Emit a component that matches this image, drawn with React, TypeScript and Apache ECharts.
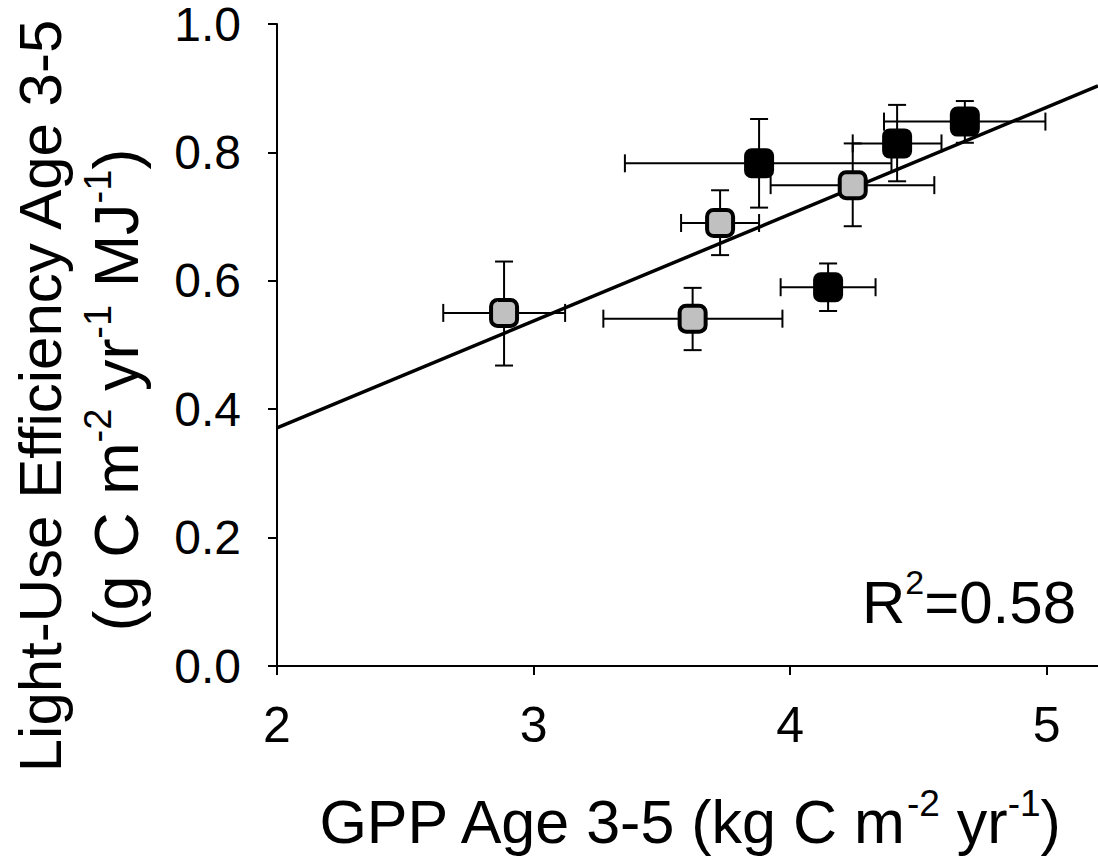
import React, { useEffect, useRef } from "react";
import * as echarts from "echarts";

// Gray squares
const grayX = [2.885, 3.62, 3.727, 4.244];
const grayY = [0.55, 0.541, 0.69, 0.749];
const grayXLo = [2.648, 3.272, 3.575, 3.924];
const grayXHi = [3.123, 3.97, 3.879, 4.562];
const grayYLo = [0.468, 0.492, 0.64, 0.685];
const grayYHi = [0.63, 0.589, 0.741, 0.814];

// Black squares
const blackX = [3.879, 4.148, 4.417, 4.681];
const blackY = [0.783, 0.59, 0.814, 0.848];
const blackXLo = [3.356, 3.963, 4.244, 4.366];
const blackXHi = [4.395, 4.333, 4.59, 4.995];
const blackYLo = [0.714, 0.553, 0.755, 0.815];
const blackYHi = [0.852, 0.627, 0.874, 0.88];

// Regression fit
const fitIntercept = 0.3708; // value at x = 2
const fitSlope = 0.1665;
const fitXRange = [2, 5.2];

const xTicks = [2, 3, 4, 5];
const yTicks = [0, 0.2, 0.4, 0.6, 0.8, 1.0];
const r2Text = "0.58";

const FONT = "Liberation Sans, Arial, sans-serif";

function errData(x: number[], y: number[], xl: number[], xh: number[], yl: number[], yh: number[]) {
  return x.map((v, i) => [v, y[i], xl[i], xh[i], yl[i], yh[i]]);
}

export default function App() {
  const ref = useRef<HTMLDivElement>(null);
  useEffect(() => {
    if (!ref.current) return;
    const chart = echarts.init(ref.current, null, { renderer: "svg" });
    const cap = 9;
    const renderErr = (params: any, api: any) => {
      const x = api.value(0), y = api.value(1);
      const pL = api.coord([api.value(2), y]);
      const pR = api.coord([api.value(3), y]);
      const pB = api.coord([x, api.value(4)]);
      const pT = api.coord([x, api.value(5)]);
      const st = { stroke: "#000", lineWidth: 2 };
      const ln = (x1: number, y1: number, x2: number, y2: number) => ({
        type: "line",
        shape: { x1, y1, x2, y2 },
        style: st,
      });
      return {
        type: "group",
        children: [
          ln(pL[0], pL[1], pR[0], pR[1]),
          ln(pL[0], pL[1] - cap, pL[0], pL[1] + cap),
          ln(pR[0], pR[1] - cap, pR[0], pR[1] + cap),
          ln(pB[0], pB[1], pT[0], pT[1]),
          ln(pB[0] - cap, pB[1], pB[0] + cap, pB[1]),
          ln(pT[0] - cap, pT[1], pT[0] + cap, pT[1]),
        ],
      };
    };
    const fitData = fitXRange.map((x) => [x, fitIntercept + fitSlope * (x - 2)]);
    const sup = (fs: number) => ({ fontSize: fs, fontFamily: FONT, color: "#000", verticalAlign: "top", lineHeight: fs });
    const main = (fs: number, lh: number) => ({ fontSize: fs, fontFamily: FONT, color: "#000", lineHeight: lh });

    chart.setOption({
      animation: false,
      backgroundColor: "#fff",
      grid: { left: 277, top: 24, width: 825, bottom: 195 },
      xAxis: {
        type: "value",
        min: fitXRange[0],
        max: fitXRange[1],
        interval: 1,
        splitLine: { show: false },
        axisLine: { show: true, lineStyle: { color: "#000", width: 2 } },
        axisTick: { show: true, inside: false, length: 9, lineStyle: { color: "#000", width: 2 } },
        axisLabel: {
          showMaxLabel: false,
          margin: 34,
          fontSize: 50,
          fontFamily: FONT,
          color: "#000",
          formatter: (v: number) => (xTicks.includes(v) ? String(v) : ""),
        },
      },
      yAxis: {
        type: "value",
        min: yTicks[0],
        max: yTicks[yTicks.length - 1],
        interval: 0.2,
        splitLine: { show: false },
        axisLine: { show: true, lineStyle: { color: "#000", width: 2 } },
        axisTick: { show: true, inside: false, length: 9, lineStyle: { color: "#000", width: 2 } },
        axisLabel: {
          margin: 36,
          fontSize: 48,
          lineHeight: 40,
          fontFamily: FONT,
          color: "#000",
          formatter: (v: number) => v.toFixed(1),
        },
      },
      series: [
        {
          type: "line",
          data: fitData,
          symbol: "none",
          lineStyle: { color: "#000", width: 3.5 },
          z: 2,
        },
        {
          type: "custom",
          renderItem: renderErr,
          data: errData(grayX, grayY, grayXLo, grayXHi, grayYLo, grayYHi),
          encode: { x: 0, y: 1 },
          z: 3,
        },
        {
          type: "custom",
          renderItem: renderErr,
          data: errData(blackX, blackY, blackXLo, blackXHi, blackYLo, blackYHi),
          encode: { x: 0, y: 1 },
          z: 3,
        },
        {
          type: "scatter",
          data: grayX.map((x, i) => [x, grayY[i]]),
          symbol: "roundRect",
          symbolSize: 26,
          itemStyle: { color: "#c0c0c0", borderColor: "#000", borderWidth: 4, opacity: 1 },
          z: 5,
        },
        {
          type: "scatter",
          data: blackX.map((x, i) => [x, blackY[i]]),
          symbol: "roundRect",
          symbolSize: 30,
          itemStyle: { color: "#000", opacity: 1 },
          z: 5,
        },
      ],
      graphic: [
        {
          type: "text",
          right: 22,
          top: 565,
          style: {
            text: "{m|R}{s|2}{m|=" + r2Text + "}",
            rich: { m: main(60, 74), s: sup(34) },
          },
        },
        {
          type: "text",
          x: 689,
          y: 822,
          style: {
            text: "{m|GPP Age 3-5 (kg C m}{s|-2}{m| yr}{s|-1}{m|)}",
            align: "center",
            verticalAlign: "middle",
            rich: { m: main(61, 74), s: sup(37) },
          },
        },
        {
          type: "text",
          x: 40,
          y: 396,
          rotation: Math.PI / 2,
          style: {
            text: "{m|Light-Use Efficiency Age 3-5}",
            align: "center",
            verticalAlign: "middle",
            rich: { m: main(60, 74) },
          },
        },
        {
          type: "text",
          x: 116,
          y: 390,
          rotation: Math.PI / 2,
          style: {
            text: "{m|(g C m}{s|-2}{m| yr}{s|-1}{m| MJ}{s|-1}{m|)}",
            align: "center",
            verticalAlign: "middle",
            rich: { m: main(63, 74), s: sup(38) },
          },
        },
      ],
    });
    return () => chart.dispose();
  }, []);
  return (
    <div
      ref={ref}
      style={{ position: "absolute", left: 0, top: 0, width: 1098, height: 861 }}
    />
  );
}
